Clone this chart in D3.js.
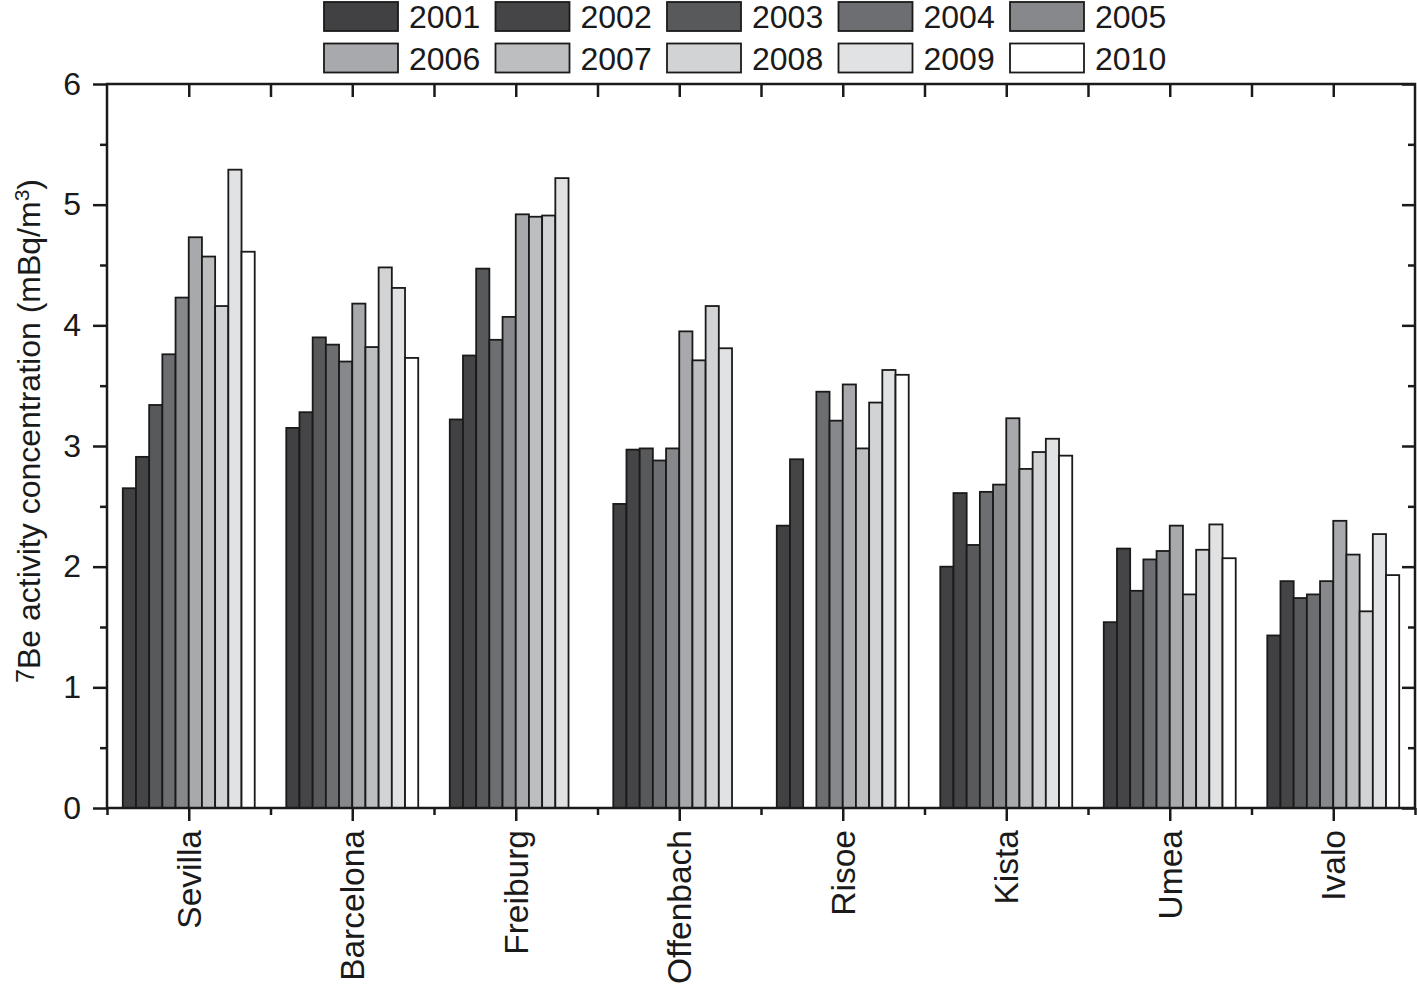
<!DOCTYPE html>
<html>
<head>
<meta charset="utf-8">
<script src="https://cdn.jsdelivr.net/npm/d3@7"></script>
<style>
  body { margin: 0; background: #fff; }
  svg { display: block; font-family: "Liberation Sans", Arial, sans-serif; }
</style>
</head>
<body>
<div id="chart"></div>
<script>
// Data
const sites = ["Sevilla", "Barcelona", "Freiburg", "Offenbach", "Risoe", "Kista", "Umea", "Ivalo"];
const years = ["2001", "2002", "2003", "2004", "2005", "2006", "2007", "2008", "2009", "2010"];
const sevilla   = [2.65, 2.91, 3.34, 3.76, 4.23, 4.73, 4.57, 4.16, 5.29, 4.61];
const barcelona = [3.15, 3.28, 3.90, 3.84, 3.70, 4.18, 3.82, 4.48, 4.31, 3.73];
const freiburg  = [3.22, 3.75, 4.47, 3.88, 4.07, 4.92, 4.90, 4.91, 5.22, null];
const offenbach = [2.52, 2.97, 2.98, 2.88, 2.98, 3.95, 3.71, 4.16, 3.81, null];
const risoe     = [2.34, 2.89, null, 3.45, 3.21, 3.51, 2.98, 3.36, 3.63, 3.59];
const kista     = [2.00, 2.61, 2.18, 2.62, 2.68, 3.23, 2.81, 2.95, 3.06, 2.92];
const umea      = [1.54, 2.15, 1.80, 2.06, 2.13, 2.34, 1.77, 2.14, 2.35, 2.07];
const ivalo     = [1.43, 1.88, 1.74, 1.77, 1.88, 2.38, 2.10, 1.63, 2.27, 1.93];
const yTicks = [0, 1, 2, 3, 4, 5, 6];

const values = [sevilla, barcelona, freiburg, offenbach, risoe, kista, umea, ivalo];
const colorScheme = ["#414042", "#454547", "#58595b", "#6d6e71", "#87888b",
                     "#a7a9ac", "#bcbec0", "#d1d3d4", "#e1e2e3", "#ffffff"];

const width = 1417;
const height = 989;
const plot = { left: 107, right: 1415, top: 84, bottom: 808 };

const svg = d3.select("#chart")
    .append("svg")
    .attr("width", width)
    .attr("height", height);

// Scales
const x = d3.scaleBand()
    .domain(sites)
    .range([plot.left, plot.right])
    .paddingInner(0.193)
    .paddingOuter(0.0965);

const xInner = d3.scaleBand()
    .domain(years)
    .range([0, x.bandwidth()]);

const y = d3.scaleLinear()
    .domain([0, 6])
    .range([plot.bottom, plot.top]);

const color = d3.scaleOrdinal().domain(years).range(colorScheme);

// Bars
const rows = sites.map((s, i) => ({
    site: s,
    bars: years.map((yr, j) => ({ year: yr, value: values[i][j] })).filter(d => d.value !== null)
}));

const group = svg.selectAll(".site")
    .data(rows)
    .enter().append("g")
    .attr("class", "site")
    .attr("transform", d => `translate(${x(d.site)},0)`);

group.selectAll("rect")
    .data(d => d.bars)
    .enter().append("rect")
    .attr("x", d => xInner(d.year))
    .attr("y", d => y(d.value))
    .attr("width", xInner.bandwidth())
    .attr("height", d => y(0) - y(d.value))
    .attr("fill", d => color(d.year))
    .attr("stroke", "#1a1a1a")
    .attr("stroke-width", 1.8);

// Tick positions: site centres and boundaries between sites
const centres = sites.map(s => x(s) + x.bandwidth() / 2);
const bounds = sites.map(s => x(s) - x.step() * x.paddingInner() / 2).concat([plot.right]);
const xPos = d3.scaleIdentity().domain([0, width]);

function styleAxis(g) {
    g.selectAll(".domain").remove();
    g.selectAll("line").attr("stroke", "#1a1a1a").attr("stroke-width", 2.5);
}

// Y axis left, major labelled ticks
svg.append("g")
    .attr("transform", `translate(${plot.left},0)`)
    .call(d3.axisLeft(y).tickValues(yTicks).tickSize(14).tickPadding(12).tickFormat(d3.format("d")))
    .call(styleAxis)
    .call(g => g.selectAll("text")
        .attr("fill", "#1a1a1a")
        .style("font-size", "32px"));

// Y axis left minor
svg.append("g")
    .attr("transform", `translate(${plot.left},0)`)
    .call(d3.axisLeft(y).tickValues(yTicks.slice(0, -1).map(d => d + 0.5)).tickSize(7).tickFormat(""))
    .call(styleAxis);

// Y axis right (inward)
svg.append("g")
    .attr("transform", `translate(${plot.right},0)`)
    .call(d3.axisLeft(y).tickValues(yTicks).tickSize(13).tickFormat(""))
    .call(styleAxis);
svg.append("g")
    .attr("transform", `translate(${plot.right},0)`)
    .call(d3.axisLeft(y).tickValues(yTicks.slice(0, -1).map(d => d + 0.5)).tickSize(7).tickFormat(""))
    .call(styleAxis);

// X axis bottom major (outward) and minor
svg.append("g")
    .attr("transform", `translate(0,${plot.bottom})`)
    .call(d3.axisBottom(xPos).tickValues(centres).tickSize(13).tickFormat(""))
    .call(styleAxis);
svg.append("g")
    .attr("transform", `translate(0,${plot.bottom})`)
    .call(d3.axisBottom(xPos).tickValues(bounds).tickSize(7).tickFormat(""))
    .call(styleAxis);

// X axis top (inward)
svg.append("g")
    .attr("transform", `translate(0,${plot.top})`)
    .call(d3.axisBottom(xPos).tickValues(centres.concat(bounds.slice(1, -1))).tickSize(13).tickFormat(""))
    .call(styleAxis);

// Frame
svg.append("rect")
    .attr("x", plot.left)
    .attr("y", plot.top)
    .attr("width", plot.right - plot.left)
    .attr("height", plot.bottom - plot.top)
    .attr("fill", "none")
    .attr("stroke", "#1a1a1a")
    .attr("stroke-width", 2.5);

// Site labels
svg.selectAll(".site-label")
    .data(sites)
    .enter().append("text")
    .attr("class", "site-label")
    .attr("transform", d => `translate(${x(d) + x.bandwidth() / 2 + 12},830) rotate(-90)`)
    .attr("text-anchor", "end")
    .style("font-size", "33.5px")
    .attr("fill", "#1a1a1a")
    .text(d => d);

// Y axis title
const title = svg.append("text")
    .attr("transform", `translate(40,431) rotate(-90)`)
    .attr("text-anchor", "middle")
    .style("font-size", "32px")
    .attr("fill", "#1a1a1a");
title.append("tspan").attr("baseline-shift", "25%").style("font-size", "25px").text("7");
title.append("tspan").text("Be activity concentration (mBq/m");
title.append("tspan").attr("baseline-shift", "super").style("font-size", "21px").text("3");
title.append("tspan").text(")");

// Legend
const legend = svg.selectAll(".legend")
    .data(years)
    .enter().append("g")
    .attr("class", "legend")
    .attr("transform", (d, i) => `translate(${324 + (i % 5) * 171.5},${2 + Math.floor(i / 5) * 41.5})`);

legend.append("rect")
    .attr("width", 74)
    .attr("height", 29)
    .attr("fill", d => color(d))
    .attr("stroke", "#1a1a1a")
    .attr("stroke-width", 1.8);

legend.append("text")
    .attr("x", 85)
    .attr("y", 26)
    .style("font-size", "32px")
    .attr("fill", "#1a1a1a")
    .text(d => d);
</script>
</body>
</html>
